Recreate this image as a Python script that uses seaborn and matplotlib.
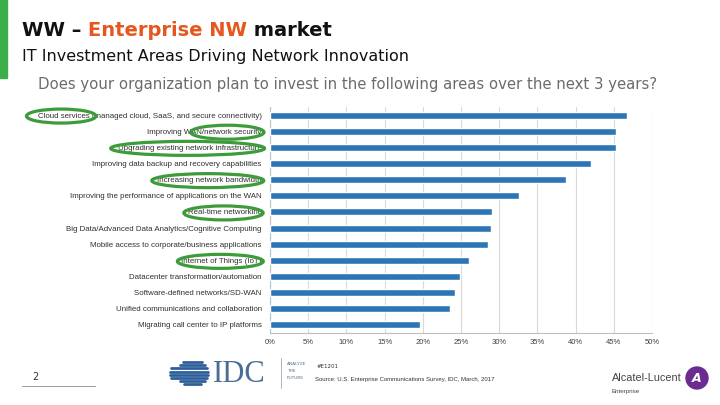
import numpy as np
import pandas as pd
import seaborn as sns
import matplotlib.pyplot as plt
from matplotlib.patches import Ellipse, Rectangle
from matplotlib.lines import Line2D

# data
areas = [
    "Cloud services (managed cloud, SaaS, and secure connectivity)",
    "Improving WAN/network security",
    "Upgrading existing network infrastructure",
    "Improving data backup and recovery capabilities",
    "Increasing network bandwidth",
    "Improving the performance of applications on the WAN",
    "Real-time networking",
    "Big Data/Advanced Data Analytics/Cognitive Computing",
    "Mobile access to corporate/business applications",
    "Internet of Things (IoT)",
    "Datacenter transformation/automation",
    "Software-defined networks/SD-WAN",
    "Unified communications and collaboration",
    "Migrating call center to IP platforms",
]
share = [46.7, 45.3, 45.3, 42.0, 38.7, 32.6, 29.0, 28.9, 28.5, 26.0, 24.9, 24.2, 23.6, 19.6]
xticks = [0, 5, 10, 15, 20, 25, 30, 35, 40, 45, 50]
# circled labels: (label, start fraction, end fraction of label width)
circled = [
    ("Cloud services (managed cloud, SaaS, and secure connectivity)", -0.05, 0.26),
    ("Improving WAN/network security", 0.38, 1.02),
    ("Upgrading existing network infrastructure", -0.05, 1.02),
    ("Increasing network bandwidth", -0.05, 1.02),
    ("Real-time networking", -0.05, 1.02),
    ("Internet of Things (IoT)", -0.05, 1.02),
]

df = pd.DataFrame({"area": areas, "share": share})

sns.set_theme(style="white")
plt.rcParams['font.family'] = ['DejaVu Sans']

W, H = 720, 405
fig = plt.figure(figsize=(7.2, 4.05), dpi=100)
fig.patch.set_facecolor("white")

def fx(px):
    return px / W

def fy(py):
    return 1 - py / H

ax = fig.add_axes([fx(270), fy(333), fx(652) - fx(270), (333 - 107) / H])
sns.barplot(data=df, x="share", y="area", color="#2E75B6", width=0.44,
            saturation=1, ax=ax, zorder=3)
ax.set_xlim(0, 50)
ax.set_ylim(13.5, -0.5)
ax.set_xticks(xticks)
ax.set_xticklabels([f"{t}%" for t in xticks], fontsize=5.5, color="#404040",
                   family="Liberation Sans")
ax.set_yticks(range(len(areas)))
ax.set_yticklabels(areas, fontsize=5.7, color="#303030", family="Liberation Sans")
ax.set_xlabel("")
ax.set_ylabel("")
ax.grid(axis="x", color="#d9d9d9", linewidth=0.8, zorder=0)
for s in ["top", "right"]:
    ax.spines[s].set_visible(False)
ax.spines["left"].set_color("#bfbfbf")
ax.spines["bottom"].set_color("#bfbfbf")
ax.spines["left"].set_linewidth(0.8)
ax.spines["bottom"].set_linewidth(0.8)
ax.set_yticks(np.arange(-0.5, len(areas), 1), minor=True)
ax.tick_params(axis="y", which="major", length=0, pad=6)
ax.tick_params(axis="y", which="minor", length=3, color="#bfbfbf", direction="out")
ax.tick_params(axis="x", length=0, pad=4)

# green side bar
fig.patches.append(Rectangle((0, fy(78)), fx(7), 78 / H, transform=fig.transFigure,
                             color="#3DAE49", zorder=5))

# title in pieces
fig.canvas.draw()
r = fig.canvas.get_renderer()
x = fx(22)
for txt, col in [("WW \u2013 ", "#111111"), ("Enterprise NW", "#E5571F"), (" market", "#111111")]:
    t = fig.text(x, fy(30), txt, fontsize=14, fontweight="bold", color=col, va="center")
    bb = t.get_window_extent(renderer=r)
    x = x + bb.width / W

fig.text(fx(22), fy(57), "IT Investment Areas Driving Network Innovation",
         fontsize=11.5, color="#111111", va="center")
fig.text(fx(38), fy(84),
         "Does your organization plan to invest in the following areas over the next 3 years?",
         fontsize=10.7, color="#6b6b6b", va="center")

# green hand-drawn style circles round labels
fig.canvas.draw()
lab = {t.get_text(): t for t in ax.get_yticklabels()}
for name, a, b in circled:
    bb = lab[name].get_window_extent(renderer=r)
    x0 = bb.x0 + a * bb.width
    x1 = bb.x0 + b * bb.width
    cx = (x0 + x1) / 2 / W
    cy = (bb.y0 + bb.y1) / 2 / H
    e = Ellipse((cx, cy), (x1 - x0) / W, 14 / H, transform=fig.transFigure,
                fill=False, edgecolor="#3D9C3A", linewidth=2.3, zorder=6)
    fig.patches.append(e)

# footer: page number
fig.text(fx(32), fy(377), "2", fontsize=7, color="#333333", va="center")
fig.lines.append(Line2D([fx(22), fx(95)], [fy(386), fy(386)], transform=fig.transFigure,
                        color="#999999", linewidth=0.7))

# IDC logo
gcx, gcy, gr = 195, 373, 13
for dy in np.arange(-11, 12, 3.2):
    hw = np.sqrt(max(gr ** 2 - dy ** 2, 0))
    left = gcx - hw - (12 if abs(dy) < 6 else 5)
    fig.lines.append(Line2D([fx(left), fx(gcx + hw)], [fy(gcy + dy), fy(gcy + dy)],
                            transform=fig.transFigure, color="#2F5F9A", linewidth=2.0))
fig.text(fx(213), fy(374), "IDC", fontsize=22, family="Liberation Serif",
         color="#4A6D96", va="center")
fig.lines.append(Line2D([fx(281), fx(281)], [fy(358), fy(388)], transform=fig.transFigure,
                        color="#9aaac0", linewidth=0.6))
for i, w in enumerate(["ANALYZE", "THE", "FUTURE"]):
    fig.text(fx(287), fy(364 + i * 7), w, fontsize=3.2, color="#5a7090", va="center")
fig.text(fx(317), fy(366), "#E1201", fontsize=4, color="#333333", va="center")
fig.text(fx(315), fy(380),
         "Source: U.S. Enterprise Communications Survey, IDC, March, 2017",
         fontsize=4.3, color="#333333", va="center", family="Liberation Sans")

# Alcatel-Lucent logo
fig.text(fx(612), fy(378), "Alcatel-Lucent", fontsize=7.8, color="#444444",
         va="center", family="Liberation Sans")
fig.text(fx(612), fy(392), "Enterprise", fontsize=4.5, color="#444444",
         va="center", family="Liberation Sans")
fig.patches.append(Ellipse((fx(697), fy(378)), 22 / W, 22 / H, transform=fig.transFigure,
                           color="#6A2C91", zorder=5))
fig.text(fx(697), fy(378), "A", fontsize=9, fontweight="bold", style="italic",
         color="white", ha="center", va="center", zorder=6)

fig.savefig("out.png", dpi=100)
